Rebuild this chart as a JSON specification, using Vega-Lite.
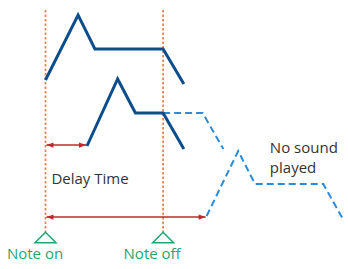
{
  "$schema": "https://vega.github.io/schema/vega-lite/v6.json",
  "width": 348,
  "height": 269,
  "padding": 0,
  "autosize": {"type": "fit", "contains": "padding"},
  "background": "white",
  "config": {"view": {"stroke": null}},
  "datasets": {
    "env": [
      {"series": "note1", "style": "solid", "i": 0, "t": 46, "lvl": 189},
      {"series": "note1", "style": "solid", "i": 1, "t": 79, "lvl": 254},
      {"series": "note1", "style": "solid", "i": 2, "t": 96, "lvl": 220},
      {"series": "note1", "style": "solid", "i": 3, "t": 165, "lvl": 220},
      {"series": "note1", "style": "solid", "i": 4, "t": 186, "lvl": 185},
      {"series": "delayed", "style": "solid", "i": 0, "t": 88, "lvl": 123},
      {"series": "delayed", "style": "solid", "i": 1, "t": 119, "lvl": 190},
      {"series": "delayed", "style": "solid", "i": 2, "t": 137, "lvl": 156},
      {"series": "delayed", "style": "solid", "i": 3, "t": 165, "lvl": 156},
      {"series": "delayed", "style": "solid", "i": 4, "t": 186, "lvl": 120},
      {"series": "delayedTail", "style": "dashed", "i": 0, "t": 165, "lvl": 156},
      {"series": "delayedTail", "style": "dashed", "i": 1, "t": 205, "lvl": 156},
      {"series": "delayedTail", "style": "dashed", "i": 2, "t": 226, "lvl": 120},
      {"series": "unplayed", "style": "dashed", "i": 0, "t": 209, "lvl": 53},
      {"series": "unplayed", "style": "dashed", "i": 1, "t": 241, "lvl": 118},
      {"series": "unplayed", "style": "dashed", "i": 2, "t": 258, "lvl": 85},
      {"series": "unplayed", "style": "dashed", "i": 3, "t": 327, "lvl": 85},
      {"series": "unplayed", "style": "dashed", "i": 4, "t": 348, "lvl": 48}
    ],
    "marks": [
      {"name": "Note on", "t": 46, "top": 259, "bottom": 37, "triLvl": 31.5, "labelT": 7, "labelLvl": 10},
      {"name": "Note off", "t": 165, "top": 259, "bottom": 37, "triLvl": 31.5, "labelT": 125, "labelLvl": 10}
    ],
    "arrows": [
      {"name": "delay", "t": 47, "t2": 87, "lvl": 124},
      {"name": "length", "t": 47, "t2": 208, "lvl": 52}
    ],
    "texts": [
      {"text": "Delay Time", "t": 52, "lvl": 85},
      {"text": "No sound", "t": 273, "lvl": 116},
      {"text": "played", "t": 273, "lvl": 96}
    ]
  },
  "encoding": {
    "x": {"field": "t", "type": "quantitative", "scale": {"domain": [0, 348], "nice": false, "zero": false}, "axis": null},
    "y": {"field": "lvl", "type": "quantitative", "scale": {"domain": [0, 269], "nice": false, "zero": false}, "axis": null}
  },
  "layer": [
    {
      "data": {"name": "marks"},
      "mark": {"type": "rule", "color": "#e8835c", "strokeWidth": 1.8, "strokeDash": [2.5, 2]},
      "encoding": {
        "y": {"field": "top", "type": "quantitative"},
        "y2": {"field": "bottom"}
      }
    },
    {
      "data": {"name": "env"},
      "transform": [{"filter": "datum.style === 'dashed'"}],
      "mark": {"type": "line", "color": "#2b8bd6", "strokeWidth": 2, "strokeDash": [7, 4], "strokeJoin": "miter"},
      "encoding": {
        "detail": {"field": "series"},
        "order": {"field": "i", "type": "quantitative"}
      }
    },
    {
      "data": {"name": "env"},
      "transform": [{"filter": "datum.style === 'solid'"}],
      "mark": {"type": "line", "color": "#0b4e8b", "strokeWidth": 3, "strokeJoin": "miter"},
      "encoding": {
        "detail": {"field": "series"},
        "order": {"field": "i", "type": "quantitative"}
      }
    },
    {
      "data": {"name": "arrows"},
      "mark": {"type": "rule", "color": "#c1272d", "strokeWidth": 1.5},
      "encoding": {"x2": {"field": "t2"}}
    },
    {
      "data": {"name": "arrows"},
      "mark": {"type": "point", "shape": "M0,0L2,-0.75L2,0.75Z", "filled": true, "size": 49, "color": "#c1272d", "opacity": 1},
      "encoding": {}
    },
    {
      "data": {"name": "arrows"},
      "mark": {"type": "point", "shape": "M0,0L-2,-0.75L-2,0.75Z", "filled": true, "size": 49, "color": "#c1272d", "opacity": 1},
      "encoding": {"x": {"field": "t2", "type": "quantitative"}}
    },
    {
      "data": {"name": "marks"},
      "mark": {"type": "point", "shape": "M0,-0.5L1,0.5L-1,0.5Z", "size": 441, "filled": false, "stroke": "#1fa673", "strokeWidth": 1.5, "fill": "white", "fillOpacity": 1, "opacity": 1},
      "encoding": {"y": {"field": "triLvl", "type": "quantitative"}}
    },
    {
      "data": {"name": "marks"},
      "mark": {"type": "text", "align": "left", "baseline": "alphabetic", "font": "Open Sans", "fontSize": 15, "color": "#1fa673"},
      "encoding": {
        "x": {"field": "labelT", "type": "quantitative"},
        "y": {"field": "labelLvl", "type": "quantitative"},
        "text": {"field": "name"}
      }
    },
    {
      "data": {"name": "texts"},
      "mark": {"type": "text", "align": "left", "baseline": "alphabetic", "font": "Open Sans", "fontSize": 15, "color": "#333333"},
      "encoding": {"text": {"field": "text"}}
    }
  ]
}
